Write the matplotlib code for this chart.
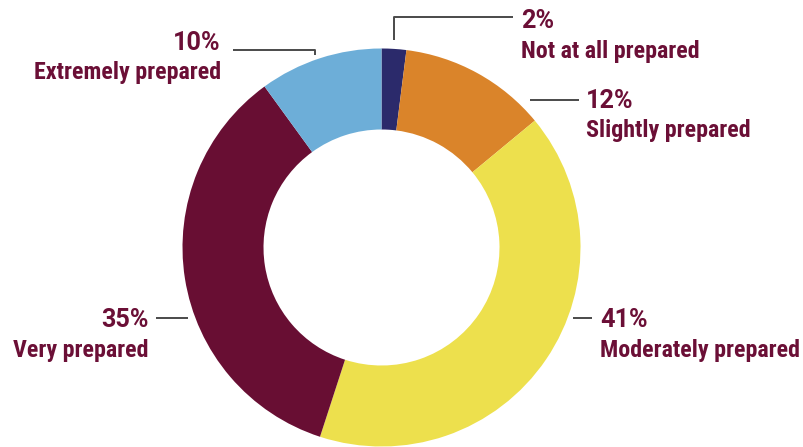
import matplotlib.pyplot as plt
import matplotlib.font_manager as fm

# survey shares, clockwise from 12 o'clock
categories = ['Not at all prepared', 'Slightly prepared', 'Moderately prepared',
              'Very prepared', 'Extremely prepared']
values = [2, 12, 41, 35, 10]
colors = ['#2b2a6b', '#da842a', '#ede04d', '#680e33', '#6daed8']

TEXT = '#6b0f36'
LINE = '#4a4a4a'
W, H = 804, 447

names = {f.name for f in fm.fontManager.ttflist}
fam = [f for f in ['Roboto Condensed', 'Liberation Sans Narrow', 'DejaVu Sans Condensed', 'Roboto']
       if f in names] + ['DejaVu Sans']
pfam = [f for f in ['Roboto'] if f in names] + ['DejaVu Sans']

fig = plt.figure(figsize=(W / 100, H / 100), dpi=100)
ax = fig.add_axes([0, 0, 1, 1])

cx, cy, r = 381.5, H - 247.5, 199
ax.pie(values, colors=colors, startangle=90, counterclock=False,
       radius=r, center=(cx, cy), wedgeprops=dict(width=81, linewidth=0))

# label layout in pixel coords (y from top): leader line points, text x, alignment
layout = {
    'Not at all prepared': ([(394.5, 40), (394.5, 17), (513, 17)], 521, 'left', 28),
    'Slightly prepared': ([(530, 100), (579, 100)], 586, 'left', 108),
    'Moderately prepared': ([(573, 318), (592, 318)], 600, 'left', 327),
    'Very prepared': ([(188, 318), (156, 318)], 149, 'right', 327),
    'Extremely prepared': ([(315, 55), (315, 50), (233, 50)], 221, 'right', 50),
}

for cat, val in zip(categories, values):
    pts, tx, ha, base = layout[cat]
    ax.plot([p[0] for p in pts], [H - p[1] for p in pts], color=LINE, lw=1.4,
            solid_capstyle='butt')
    ax.text(tx, H - base, f'{val}%', ha=ha, va='baseline', color=TEXT,
            fontsize=18.2, fontweight=600, family=pfam)
    ax.text(tx, H - base - 29.5, cat, ha=ha, va='baseline', color=TEXT,
            fontsize=17.3, fontweight='bold', family=fam)

ax.set_xlim(0, W)
ax.set_ylim(0, H)
ax.set_aspect('equal')
ax.axis('off')

fig.savefig('out.png', dpi=100)
